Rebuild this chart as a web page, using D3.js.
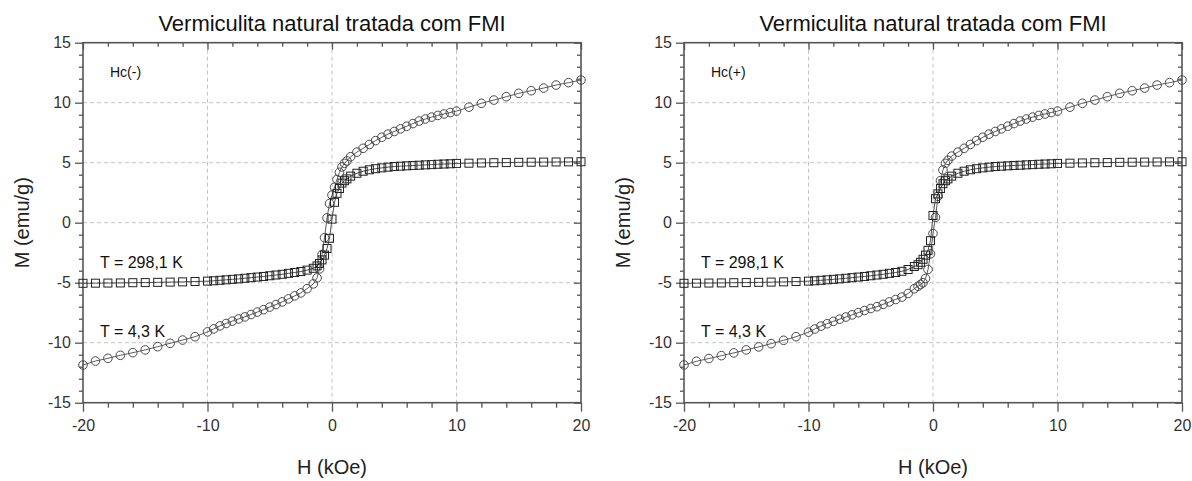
<!DOCTYPE html>
<html>
<head>
<meta charset="utf-8">
<script src="https://cdn.jsdelivr.net/npm/d3@7"></script>
<style>
  body { margin: 0; background: #fff; }
  svg { display: block; font-family: "Liberation Sans", Arial, sans-serif; }
</style>
</head>
<body>
<svg id="chart" width="1192" height="481"></svg>
<script>
// applied field (kOe), same sequence for every curve
var fieldH = [20,19,18,17,16,15,14,13,12,11,10,
  9.5,9,8.5,8,7.5,7,6.5,6,5.5,5,4.5,4,3.5,3,2.5,2,1.5,
  1.2,1.0,0.8,0.6,0.4,0.2,0,-0.2,-0.4,-0.6,-0.8,-1.0,-1.2,
  -1.5,-2,-2.5,-3,-3.5,-4,-4.5,-5,-5.5,-6,-6.5,-7,-7.5,-8,-8.5,-9,-9.5,
  -10,-11,-12,-13,-14,-15,-16,-17,-18,-19,-20];

// M (emu/g), left panel Hc(-)
var m43Desc = [11.89,11.67,11.47,11.22,11.0,10.78,10.5,10.22,9.95,9.63,9.3,
  9.18,9.06,8.94,8.8,8.64,8.47,8.26,8.04,7.82,7.6,7.38,7.12,6.84,6.52,6.2,5.88,5.5,
  5.15,4.95,4.65,4.2,3.6,2.95,2.3,1.6,0.4,-1.25,-2.65,-3.85,-4.6,
  -5.1,-5.5,-5.85,-6.1,-6.35,-6.6,-6.82,-7.03,-7.25,-7.45,-7.65,-7.85,-8.02,-8.2,-8.4,-8.6,-8.85,
  -9.1,-9.5,-9.78,-10.05,-10.33,-10.6,-10.83,-11.05,-11.3,-11.53,-11.86];
var m298Desc = [5.08,5.07,5.06,5.05,5.04,5.03,5.01,5.0,4.98,4.96,4.94,
  4.91,4.89,4.87,4.84,4.82,4.79,4.77,4.74,4.71,4.68,4.63,4.57,4.5,4.41,4.29,4.12,3.88,
  3.65,3.5,3.3,2.85,2.45,1.7,0.3,-1.3,-2.15,-2.7,-3.1,-3.4,-3.6,
  -3.8,-3.95,-4.07,-4.15,-4.22,-4.3,-4.36,-4.42,-4.48,-4.53,-4.58,-4.63,-4.68,-4.72,-4.76,-4.8,-4.84,
  -4.87,-4.9,-4.93,-4.95,-4.97,-4.99,-5.0,-5.02,-5.03,-5.04,-5.05];

// M (emu/g), right panel Hc(+)
var m43Asc = [11.89,11.67,11.47,11.22,11.0,10.78,10.5,10.22,9.95,9.63,9.3,
  9.18,9.06,8.94,8.8,8.64,8.47,8.26,8.04,7.82,7.6,7.38,7.12,6.84,6.52,6.2,5.88,5.55,
  5.2,4.95,4.4,3.5,2.2,0.45,-0.9,-2.6,-3.9,-4.65,-5.0,-5.15,-5.3,
  -5.5,-5.9,-6.2,-6.4,-6.6,-6.8,-7.0,-7.15,-7.32,-7.5,-7.68,-7.86,-8.04,-8.22,-8.42,-8.62,-8.86,
  -9.12,-9.5,-9.8,-10.08,-10.35,-10.6,-10.85,-11.08,-11.32,-11.55,-11.85];
var m298Asc = [5.08,5.07,5.06,5.05,5.04,5.03,5.01,5.0,4.98,4.96,4.94,
  4.91,4.89,4.87,4.84,4.82,4.79,4.77,4.74,4.71,4.68,4.63,4.57,4.5,4.41,4.29,4.12,3.88,
  3.65,3.5,3.25,2.85,2.4,2.0,0.6,-1.5,-2.3,-2.7,-3.05,-3.3,-3.5,
  -3.65,-3.9,-4.05,-4.15,-4.22,-4.3,-4.36,-4.42,-4.48,-4.53,-4.58,-4.63,-4.68,-4.72,-4.76,-4.8,-4.84,
  -4.87,-4.9,-4.93,-4.95,-4.97,-4.99,-5.0,-5.02,-5.03,-5.04,-5.05];

var xTicks = [-20,-10,0,10,20];
var yTicks = [-15,-10,-5,0,5,10,15];
var panelLabels = ["Hc(-)", "Hc(+)"];
var seriesLabels = ["T = 298,1 K", "T = 4,3 K"];
var chartTitle = "Vermiculita natural tratada com FMI";

var svg = d3.select("#chart");
var iW = 498, iH = 360, iTop = 42.7;
var axisColor = "#555";
var plainNum = function(d) { return String(d); }; // hyphen minus, as in the original

var panels = [
  { left: 83, label: panelLabels[0], cold: m43Desc, warm: m298Desc },
  { left: 684, label: panelLabels[1], cold: m43Asc, warm: m298Asc }
];

panels.forEach(function(p) {
  var x = d3.scaleLinear().domain([-20, 20]).range([0, iW]);
  var y = d3.scaleLinear().domain([-15, 15]).range([iH, 0]);
  var g = svg.append("g").attr("transform", "translate(" + p.left + "," + iTop + ")");

  // grid
  g.selectAll("line.gx").data([-10, 0, 10]).enter().append("line")
    .attr("x1", function(d) { return x(d); }).attr("x2", function(d) { return x(d); })
    .attr("y1", 0).attr("y2", iH)
    .attr("stroke", "#c4c4c4").attr("stroke-dasharray", "4,3");
  g.selectAll("line.gy").data([-10, -5, 0, 5, 10]).enter().append("line")
    .attr("y1", function(d) { return y(d); }).attr("y2", function(d) { return y(d); })
    .attr("x1", 0).attr("x2", iW)
    .attr("stroke", "#c4c4c4").attr("stroke-dasharray", "4,3");

  var xMinor = d3.range(-20, 21, 2).filter(function(v) { return v % 10 !== 0; });
  var yMinor = d3.range(-15, 16, 1).filter(function(v) { return v % 5 !== 0; });

  function styleAxis(sel) {
    sel.select(".domain").remove();
    sel.selectAll("line").attr("stroke", axisColor).attr("stroke-width", 1.3);
    sel.selectAll("text").attr("fill", "#333").style("font-size", "16px")
      .style("font-family", "'Liberation Sans', Arial, sans-serif");
  }

  // left / bottom: labelled, ticks outside
  g.append("g").call(d3.axisLeft(y).tickValues(yTicks).tickSize(8).tickPadding(4).tickFormat(plainNum)).call(styleAxis);
  g.append("g").call(d3.axisLeft(y).tickValues(yMinor).tickSize(4).tickFormat("")).call(styleAxis);
  g.append("g").attr("transform", "translate(0," + iH + ")")
    .call(d3.axisBottom(x).tickValues(xTicks).tickSize(9).tickPadding(8).tickFormat(plainNum)).call(styleAxis);
  g.append("g").attr("transform", "translate(0," + iH + ")")
    .call(d3.axisBottom(x).tickValues(xMinor).tickSize(5).tickFormat("")).call(styleAxis);
  // top / right: ticks inside, no labels
  g.append("g").call(d3.axisTop(x).tickValues(xTicks).tickSize(-7).tickFormat("")).call(styleAxis);
  g.append("g").call(d3.axisTop(x).tickValues(xMinor).tickSize(-4).tickFormat("")).call(styleAxis);
  g.append("g").attr("transform", "translate(" + iW + ",0)")
    .call(d3.axisRight(y).tickValues(yTicks).tickSize(-7).tickFormat("")).call(styleAxis);
  g.append("g").attr("transform", "translate(" + iW + ",0)")
    .call(d3.axisRight(y).tickValues(yMinor).tickSize(-4).tickFormat("")).call(styleAxis);

  g.append("rect").attr("width", iW).attr("height", iH)
    .attr("fill", "none").attr("stroke", axisColor).attr("stroke-width", 1.6);

  var line = d3.line()
    .x(function(d, i) { return x(fieldH[i]); })
    .y(function(d) { return y(d); });

  // 4.3 K, circles
  g.append("path").datum(p.cold).attr("d", line)
    .attr("fill", "none").attr("stroke", "#333").attr("stroke-width", 0.8);
  g.selectAll("circle.c").data(p.cold).enter().append("circle")
    .attr("cx", function(d, i) { return x(fieldH[i]); })
    .attr("cy", function(d) { return y(d); })
    .attr("r", 4.3)
    .attr("fill", "none").attr("stroke", "#4a4a4a").attr("stroke-width", 1);

  // 298.1 K, squares
  g.append("path").datum(p.warm).attr("d", line)
    .attr("fill", "none").attr("stroke", "#222").attr("stroke-width", 0.8);
  g.selectAll("rect.s").data(p.warm).enter().append("rect")
    .attr("x", function(d, i) { return x(fieldH[i]) - 4; })
    .attr("y", function(d) { return y(d) - 4; })
    .attr("width", 8).attr("height", 8)
    .attr("fill", "none").attr("stroke", "#222").attr("stroke-width", 1);

  // texts
  g.append("text").attr("x", iW / 2).attr("y", 31 - iTop)
    .attr("text-anchor", "middle").attr("font-size", 22).attr("fill", "#111")
    .text(chartTitle);
  g.append("text").attr("x", 27).attr("y", 77 - iTop)
    .attr("font-size", 14).attr("fill", "#111").text(p.label);
  g.append("text").attr("x", 17).attr("y", 268.5 - iTop)
    .attr("font-size", 16).attr("fill", "#111").text(seriesLabels[0]);
  g.append("text").attr("x", 17).attr("y", 337.5 - iTop)
    .attr("font-size", 16).attr("fill", "#111").text(seriesLabels[1]);
  g.append("text").attr("x", iW / 2).attr("y", 474 - iTop)
    .attr("text-anchor", "middle").attr("font-size", 20).attr("fill", "#222")
    .text("H (kOe)");
  g.append("text")
    .attr("transform", "translate(-54," + (iH / 2) + ") rotate(-90)")
    .attr("text-anchor", "middle").attr("font-size", 20).attr("fill", "#222")
    .text("M (emu/g)");
});
</script>
</body>
</html>
